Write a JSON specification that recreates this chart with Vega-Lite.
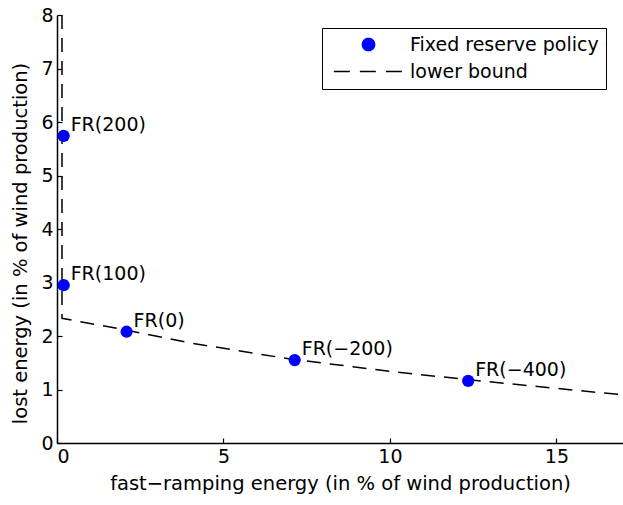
{
  "$schema": "https://vega.github.io/schema/vega-lite/v6.json",
  "width": 566,
  "height": 428,
  "autosize": {"type": "none"},
  "padding": {"left": 57, "top": 15, "right": 0, "bottom": 62},
  "background": "white",
  "config": {
    "view": {"stroke": null},
    "font": "DejaVu Sans",
    "axis": {
      "grid": false,
      "domainColor": "black",
      "domainWidth": 1.5,
      "tickColor": "black",
      "tickWidth": 1.2,
      "tickSize": -5,
      "labelColor": "black",
      "titleColor": "black",
      "labelFontSize": 19,
      "titleFontSize": 19.5,
      "titleFontWeight": "normal",
      "labelPadding": 9
    }
  },
  "layer": [
    {
      "data": {
        "values": [
          {"i": 0, "x": 0.15, "y": 8},
          {"i": 1, "x": 0.15, "y": 2.33},
          {"i": 2, "x": 2, "y": 2.12},
          {"i": 3, "x": 4, "y": 1.87},
          {"i": 4, "x": 7, "y": 1.57},
          {"i": 5, "x": 10, "y": 1.34},
          {"i": 6, "x": 12.4, "y": 1.18},
          {"i": 7, "x": 17, "y": 0.9}
        ]
      },
      "mark": {"type": "line", "color": "black", "strokeDash": [14, 9], "strokeWidth": 1.5, "clip": true},
      "encoding": {
        "x": {
          "field": "x", "type": "quantitative",
          "scale": {"domain": [0, 17], "nice": false},
          "axis": {"values": [0, 5, 10, 15], "title": "fast−ramping energy (in % of wind production)", "titlePadding": 8}
        },
        "y": {
          "field": "y", "type": "quantitative",
          "scale": {"domain": [0, 8], "nice": false},
          "axis": {"values": [0, 1, 2, 3, 4, 5, 6, 7, 8], "title": "lost energy (in % of wind production)", "titlePadding": 10, "titleFontSize": 19.5, "titleY": 228}
        },
        "order": {"field": "i"}
      }
    },
    {
      "data": {
        "values": [
          {"label": "FR(200)", "x": 0.2, "y": 5.74, "series": "Fixed reserve policy"},
          {"label": "FR(100)", "x": 0.2, "y": 2.95, "series": "Fixed reserve policy"},
          {"label": "FR(0)", "x": 2.09, "y": 2.08, "series": "Fixed reserve policy"},
          {"label": "FR(−200)", "x": 7.14, "y": 1.55, "series": "Fixed reserve policy"},
          {"label": "FR(−400)", "x": 12.35, "y": 1.16, "series": "Fixed reserve policy"}
        ]
      },
      "layer": [
        {
          "mark": {"type": "point", "filled": true, "opacity": 1, "size": 150},
          "encoding": {
            "x": {"field": "x", "type": "quantitative"},
            "y": {"field": "y", "type": "quantitative"},
            "color": {
              "field": "series", "type": "nominal",
              "scale": {"domain": ["Fixed reserve policy", "lower bound"], "range": ["#0000ff", "black"]},
              "legend": {
                "title": null, "orient": "none", "legendX": 265, "legendY": 13,
                "strokeColor": "black", "padding": 7, "fillColor": "white",
                "labelFontSize": 19, "labelColor": "black", "labelLimit": 400, "symbolSize": 150,
                "symbolOffset": 30, "labelOffset": 32, "rowPadding": 7,
                "encoding": {"symbols": {
                  "shape": {"value": {"expr": "datum.value === 'lower bound' ? 'stroke' : 'circle'"}},
                  "size": {"value": {"expr": "datum.value === 'lower bound' ? 4800 : 150"}},
                  "stroke": {"value": {"expr": "datum.value === 'lower bound' ? 'black' : '#0000ff'"}},
                  "fill": {"value": {"expr": "datum.value === 'lower bound' ? 'transparent' : '#0000ff'"}},
                  "strokeDash": {"value": {"expr": "datum.value === 'lower bound' ? [16, 10] : [1, 0]"}},
                  "strokeWidth": {"value": 1.5},
                  "opacity": {"value": 1}
                }}
              }
            }
          }
        },
        {
          "mark": {"type": "text", "align": "left", "baseline": "middle", "dx": 7, "dy": -11, "fontSize": 19, "color": "black"},
          "encoding": {
            "x": {"field": "x", "type": "quantitative"},
            "y": {"field": "y", "type": "quantitative"},
            "text": {"field": "label"}
          }
        }
      ]
    }
  ]
}
